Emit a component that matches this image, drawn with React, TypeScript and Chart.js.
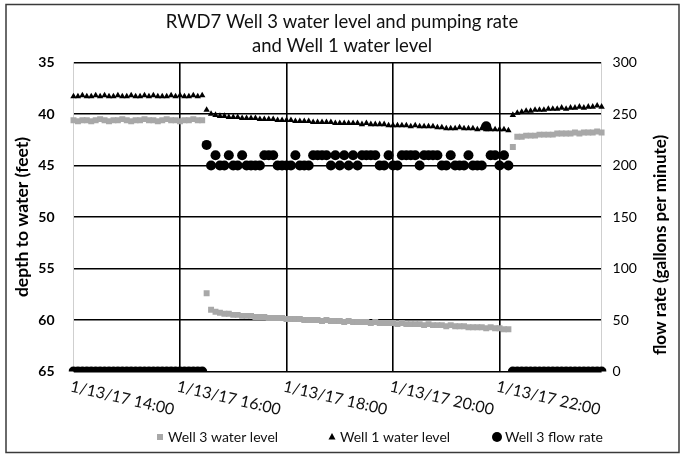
import React, { useEffect, useRef } from 'react';
import { Chart, registerables } from 'chart.js';

Chart.register(...registerables);

const FONT = 'Lato, "Open Sans", sans-serif';

// 5-minute readings from 1/13/17 14:00 to 23:55
const timeLabels: string[] = [];
for (let i = 0; i < 120; i++) {
  const m = 14 * 60 + i * 5;
  const h = Math.floor(m / 60);
  const mm = m % 60;
  timeLabels.push(`1/13/17 ${h}:${mm.toString().padStart(2, '0')}`);
}

const tickLabels = ['1/13/17 14:00', '1/13/17 16:00', '1/13/17 18:00', '1/13/17 20:00', '1/13/17 22:00'];

const depthTicks = [35, 40, 45, 50, 55, 60, 65];
const flowTicks = [0, 50, 100, 150, 200, 250, 300];

// depth to water (feet)
const well3Level: number[] = [
  40.6, 40.7, 40.6, 40.6, 40.7, 40.6, 40.5, 40.6, 40.7, 40.6,
  40.6, 40.5, 40.6, 40.7, 40.6, 40.6, 40.5, 40.6, 40.6, 40.7,
  40.6, 40.5, 40.6, 40.6, 40.7, 40.6, 40.6, 40.5, 40.6, 40.6,
  57.4, 59.0, 59.2, 59.3, 59.4, 59.4, 59.5, 59.5, 59.6, 59.6,
  59.6, 59.7, 59.7, 59.7, 59.8, 59.8, 59.8, 59.8, 59.9, 59.9,
  59.9, 59.9, 60.0, 60.0, 60.0, 60.0, 60.1, 60.0, 60.1, 60.1,
  60.1, 60.2, 60.1, 60.2, 60.2, 60.2, 60.2, 60.3, 60.2, 60.3,
  60.3, 60.3, 60.3, 60.4, 60.3, 60.4, 60.4, 60.4, 60.4, 60.5,
  60.4, 60.5, 60.5, 60.5, 60.6, 60.5, 60.6, 60.6, 60.6, 60.7,
  60.7, 60.7, 60.7, 60.8, 60.7, 60.8, 60.8, 60.9, 60.9,
  43.2, 42.2, 42.2, 42.1, 42.1, 42.1, 42.0, 42.0, 42.0, 42.0,
  41.9, 41.9, 41.9, 41.9, 41.8, 41.9, 41.8, 41.8, 41.8, 41.7, 41.8,
];

const well1Level: number[] = [
  38.3, 38.3, 38.2, 38.3, 38.3, 38.2, 38.3, 38.2, 38.3, 38.3,
  38.2, 38.3, 38.3, 38.2, 38.3, 38.3, 38.2, 38.3, 38.2, 38.3,
  38.3, 38.3, 38.2, 38.3, 38.2, 38.3, 38.3, 38.2, 38.3, 38.2,
  39.6, 40.0, 40.1, 40.2, 40.2, 40.3, 40.3, 40.3, 40.4, 40.4,
  40.4, 40.4, 40.5, 40.5, 40.5, 40.5, 40.6, 40.6, 40.6, 40.6,
  40.7, 40.7, 40.7, 40.7, 40.8, 40.8, 40.8, 40.8, 40.8, 40.9,
  40.9, 40.9, 40.9, 40.9, 40.9, 41.0, 40.9, 41.0, 41.0, 41.0,
  41.0, 41.1, 41.1, 41.1, 41.1, 41.1, 41.2, 41.1, 41.2, 41.2,
  41.2, 41.2, 41.3, 41.3, 41.4, 41.4, 41.4, 41.3, 41.4, 41.4,
  41.4, 41.5, 41.4, 41.5, 41.5, 41.5, 41.5, 41.5, 41.6,
  40.1, 39.9, 39.8, 39.7, 39.7, 39.6, 39.6, 39.6, 39.5, 39.5,
  39.5, 39.4, 39.5, 39.4, 39.4, 39.3, 39.4, 39.3, 39.3, 39.2, 39.3,
];

// gallons per minute
const flowRate: number[] = [
  0, 0, 0, 0, 0, 0, 0, 0, 0, 0,
  0, 0, 0, 0, 0, 0, 0, 0, 0, 0,
  0, 0, 0, 0, 0, 0, 0, 0, 0, 0,
  220, 200, 210, 200, 200, 210, 200, 200, 210, 200,
  200, 200, 200, 210, 210, 210, 200, 200, 200, 200,
  210, 200, 200, 200, 210, 210, 210, 210, 200, 210,
  200, 210, 200, 210, 200, 210, 210, 210, 210, 200,
  200, 210, 200, 200, 210, 210, 210, 210, 200, 210,
  210, 210, 210, 200, 200, 210, 200, 200, 200, 210,
  200, 200, 200, 238, 210, 210, 200, 210, 200,
  0, 0, 0, 0, 0, 0, 0, 0, 0, 0,
  0, 0, 0, 0, 0, 0, 0, 0, 0, 0, 0,
];

const seriesNames = ['Well 3 water level', 'Well 1 water level', 'Well 3 flow rate'];

const overlayPlugin = {
  id: 'overlay',
  afterDraw(chart: any) {
    const { ctx, chartArea } = chart;
    const xScale = chart.scales.x;
    ctx.save();
    // outer frame
    ctx.strokeStyle = '#3a3a3a';
    ctx.lineWidth = 1.5;
    ctx.strokeRect(6, 4.5, 673, 448);

    // rotated category labels
    ctx.fillStyle = '#111';
    ctx.font = `16px ${FONT}`;
    ctx.textAlign = 'left';
    ctx.textBaseline = 'top';
    tickLabels.forEach((lbl) => {
      const idx = timeLabels.indexOf(lbl);
      const x = xScale.getPixelForValue(idx);
      ctx.save();
      ctx.translate(x - 1, chartArea.bottom + 7);
      ctx.rotate((13 * Math.PI) / 180);
      ctx.fillText(lbl, 0, 0);
      ctx.restore();
    });

    // right axis title (reads bottom to top)
    ctx.save();
    ctx.translate(661, 245);
    ctx.rotate(-Math.PI / 2);
    ctx.textAlign = 'center';
    ctx.textBaseline = 'middle';
    ctx.font = `bold 17px ${FONT}`;
    ctx.fillStyle = '#000';
    ctx.fillText('flow rate (gallons per minute)', 0, 0);
    ctx.restore();

    // legend
    const markerX = [160, 332, 497];
    const ly = 437;
    ctx.font = `14px ${FONT}`;
    ctx.textAlign = 'left';
    ctx.textBaseline = 'middle';
    chart.data.datasets.forEach((ds: any, i: number) => {
      const mx = markerX[i];
      ctx.fillStyle = ds.pointBackgroundColor;
      if (ds.pointStyle === 'rect') {
        ctx.fillRect(mx - 3, ly - 3, 6, 6);
      } else if (ds.pointStyle === 'triangle') {
        ctx.beginPath();
        ctx.moveTo(mx, ly - 4);
        ctx.lineTo(mx + 3.5, ly + 2.5);
        ctx.lineTo(mx - 3.5, ly + 2.5);
        ctx.closePath();
        ctx.fill();
      } else {
        ctx.beginPath();
        ctx.arc(mx, ly, 5, 0, Math.PI * 2);
        ctx.fill();
      }
      ctx.fillStyle = '#111';
      ctx.fillText(ds.label, mx + 8, ly);
    });
    ctx.restore();
  },
};

export default function App() {
  const canvasRef = useRef<HTMLCanvasElement | null>(null);

  useEffect(() => {
    const canvas = canvasRef.current;
    if (!canvas) return;
    const chart = new Chart(canvas, {
      type: 'line',
      data: {
        labels: timeLabels,
        datasets: [
          {
            label: seriesNames[0],
            data: well3Level,
            yAxisID: 'y',
            showLine: false,
            pointStyle: 'rect',
            pointRadius: 4.2,
            pointBackgroundColor: '#a8a8a8',
            pointBorderWidth: 0,
            borderColor: '#a8a8a8',
            backgroundColor: '#a8a8a8',
            order: 3,
          },
          {
            label: seriesNames[1],
            data: well1Level,
            yAxisID: 'y',
            showLine: false,
            pointStyle: 'triangle',
            pointRadius: 3.7,
            pointBackgroundColor: '#000',
            pointBorderWidth: 0,
            borderColor: '#000',
            backgroundColor: '#000',
            order: 2,
          },
          {
            label: seriesNames[2],
            data: flowRate,
            yAxisID: 'y1',
            showLine: false,
            pointStyle: 'circle',
            pointRadius: 5,
            pointBackgroundColor: '#000',
            pointBorderWidth: 0,
            borderColor: '#000',
            backgroundColor: '#000',
            order: 1,
          },
        ],
      },
      options: {
        animation: false,
        responsive: false,
        events: [],
        layout: { padding: 0 },
        scales: {
          x: {
            type: 'category',
            offset: false,
            ticks: { display: false, autoSkip: false },
            grid: {
              color: (c: any) => {
                const lbl = timeLabels[c.index];
                return c.index > 0 && tickLabels.includes(lbl) ? '#000' : 'transparent';
              },
              lineWidth: 1.6,
              drawTicks: false,
            },
            border: { display: false },
            afterFit: (s: any) => {
              s.height = 85.5;
            },
          },
          y: {
            position: 'left',
            reverse: true,
            min: depthTicks[0],
            max: depthTicks[depthTicks.length - 1],
            afterBuildTicks: (s: any) => {
              s.ticks = depthTicks.map((v) => ({ value: v }));
            },
            ticks: {
              font: { family: FONT, size: 14, weight: 'bold' },
              color: '#000',
              padding: 19,
            },
            grid: { color: '#000', lineWidth: 1.6, drawTicks: false },
            border: { display: true, color: '#cfcfcf', width: 1 },
            title: {
              display: true,
              text: 'depth to water (feet)',
              font: { family: FONT, size: 17.5, weight: 'bold' },
              color: '#000',
              padding: { top: 12, bottom: 0 },
            },
            afterFit: (s: any) => {
              s.width = 73.5;
            },
          },
          y1: {
            position: 'right',
            min: flowTicks[0],
            max: flowTicks[flowTicks.length - 1],
            afterBuildTicks: (s: any) => {
              s.ticks = flowTicks.map((v) => ({ value: v }));
            },
            ticks: {
              font: { family: FONT, size: 14 },
              color: '#000',
              padding: 11,
            },
            grid: { display: false, drawTicks: false },
            border: { display: true, color: '#cfcfcf', width: 1 },
            afterFit: (s: any) => {
              s.width = 82.4;
            },
          },
        },
        plugins: {
          legend: { display: false },
          tooltip: { enabled: false },
          title: {
            display: true,
            text: ['RWD7 Well 3 water level and pumping rate', 'and Well 1 water level'],
            font: { family: FONT, size: 18.5, weight: 'normal', lineHeight: 1.3 },
            color: '#111',
            padding: { top: 10, bottom: 4.4 },
          },
        },
      },
      plugins: [overlayPlugin],
    } as any);
    return () => chart.destroy();
  }, []);

  return (
    <div style={{ position: 'absolute', left: 0, top: 0, width: 684, height: 457, background: '#fff' }}>
      <canvas ref={canvasRef} width={684} height={457} />
    </div>
  );
}
